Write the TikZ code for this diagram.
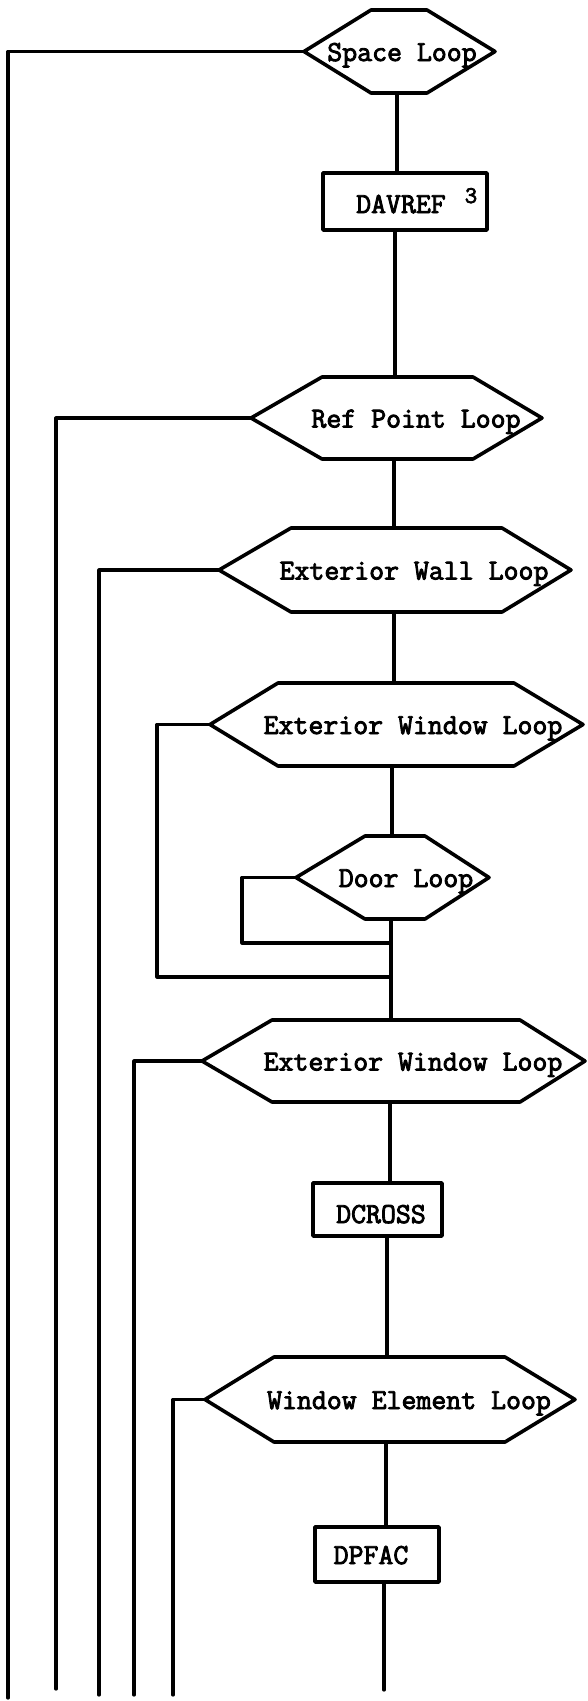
\documentclass[tikz,border=0pt]{standalone}
\usepackage{fontspec}
\newfontfamily\tw{Latin Modern Mono}[FakeBold=3]
\tikzset{
  hexa/.style={draw, line width=3.6pt, line join=round},
  flow/.style={line width=3.2pt, line join=round, line cap=round},
  lbl/.style={font=\fontsize{29}{31}\selectfont\tw, inner sep=0pt, anchor=base},
  supl/.style={font=\fontsize{24}{26}\selectfont\tw, inner sep=0pt, anchor=base},
  procbox/.style={draw, line width=3.6pt, line join=round, inner sep=0pt}
}
% name, left tip x, top-left x, top-right x, right tip x, top y, bottom y, text, text x
\newcommand\hexshape[9]{%
  \path (#2,{(#6+#7)/2}) coordinate (#1-w)
        (#3,#6) coordinate (#1-nw)
        (#4,#6) coordinate (#1-ne)
        (#5,{(#6+#7)/2}) coordinate (#1-e)
        (#4,#7) coordinate (#1-se)
        (#3,#7) coordinate (#1-sw);
  \draw[hexa] (#1-w) -- (#1-nw) -- (#1-ne) -- (#1-e) -- (#1-se) -- (#1-sw) -- cycle;
  \node[lbl] (#1) at (#9,{(#6+#7)/2+9.5}) {#8};
}
\begin{document}
\begin{tikzpicture}[x=1pt,y=-1pt]
\useasboundingbox[fill=white] (0,0) rectangle (588,1701);

% loop hexagons
\hexshape{sl}{304}{371}{427}{495}{10}{93}{Space Loop}{402}
\hexshape{rp}{251}{322}{473}{542}{377}{459}{Ref Point Loop}{416}
\hexshape{ew}{219}{291}{502}{571}{528}{612}{Exterior Wall Loop}{414}
\hexshape{ewa}{210}{278}{514}{583}{683}{766}{Exterior Window Loop}{413}
\hexshape{door}{296}{365}{425}{489}{836}{919}{Door Loop}{406}
\hexshape{ewb}{202}{272}{520}{585}{1020}{1102}{Exterior Window Loop}{413}
\hexshape{wel}{205}{274}{505}{575}{1357}{1442}{Window Element Loop}{409}

% process boxes
\node[procbox, minimum width=164pt, minimum height=57pt] (davref) at (405,201.5) {};
\node[lbl] (davreft) at (401,213) {DAVREF};
\node[supl] (davrefs) at (471,203) {3};
\node[procbox, minimum width=129pt, minimum height=53pt] (dcross) at (377.5,1209.5) {};
\node[lbl] (dcrosst) at (381,1223) {DCROSS};
\node[procbox, minimum width=124pt, minimum height=55pt] (dpfac) at (377,1554.5) {};
\node[lbl] (dpfact) at (371,1564) {DPFAC};

% main line connection points
\coordinate (sl-s) at (397,93);
\coordinate (rp-n) at (395,377);
\coordinate (rp-s) at (394,459);
\coordinate (ewa-s) at (392,766);
\coordinate (door-s) at (391,919);
\coordinate (ewb-s) at (390,1102);
\coordinate (dcross-s) at (387,1236);
\coordinate (wel-s) at (386,1442);
\coordinate (dpfac-s) at (384,1582);
\coordinate (endm) at (384,1690);

\draw[flow] (sl-s) -- (sl-s |- davref.north);
\draw[flow] (rp-n |- davref.south) -- (rp-n);
\draw[flow] (rp-s) -- (rp-s |- ew-nw);
\draw[flow] (rp-s |- ew-sw) -- (rp-s |- ewa-nw);
\draw[flow] (ewa-s) -- (ewa-s |- door-nw);
\draw[flow] (door-s) -- (door-s |- ewb-nw);
\draw[flow] (ewb-s) -- (ewb-s |- dcross.north);
\draw[flow] (dcross-s) -- (dcross-s |- wel-nw);
\draw[flow] (wel-s) -- (wel-s |- dpfac.north);
\draw[flow] (dpfac-s) -- (endm);

% loop lines
\coordinate (sl-end) at (8,1698);
\coordinate (rp-end) at (56,1689);
\coordinate (ew-end) at (99,1695);
\coordinate (ewb-end) at (134,1695);
\coordinate (wel-end) at (173,1695);
\coordinate (ewa-c) at (157,977);
\coordinate (door-c) at (242,943);

\draw[flow] (sl-w) -| (sl-end);
\draw[flow] (rp-w) -| (rp-end);
\draw[flow] (ew-w) -| (ew-end);
\draw[flow] (ewa-w) -| (ewa-c) -- (ewa-c -| door-s);
\draw[flow] (door-w) -| (door-c) -- (door-c -| door-s);
\draw[flow] (ewb-w) -| (ewb-end);
\draw[flow] (wel-w) -| (wel-end);
\end{tikzpicture}
\end{document}
